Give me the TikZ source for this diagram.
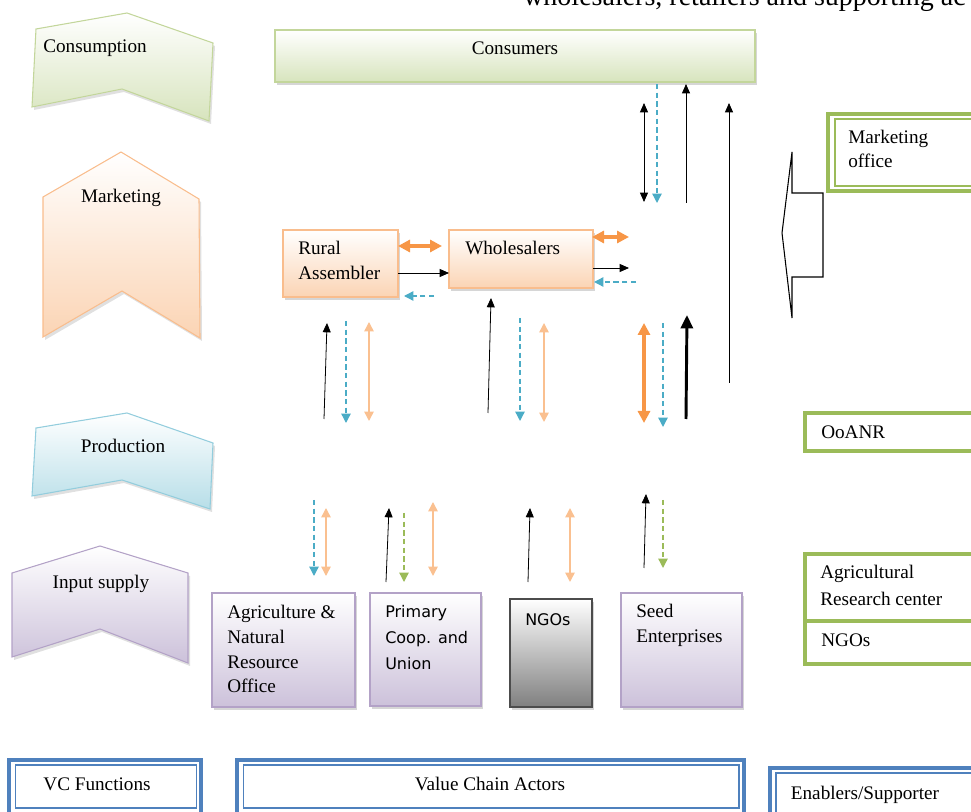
\documentclass[tikz,border=0pt]{standalone}
\usepackage{fontspec}
\setmainfont{Liberation Serif}
\newfontfamily\vsans{DejaVu Sans}
\usetikzlibrary{arrows.meta,fit,shadows}
\definecolor{gfill}{HTML}{D7E4BD}
\definecolor{gline}{HTML}{C3D69B}
\definecolor{pfill}{HTML}{FBD4B4}
\definecolor{pline}{HTML}{F9BD8D}
\definecolor{bfill}{HTML}{B7DEE8}
\definecolor{bline}{HTML}{93CDDD}
\definecolor{vfill}{HTML}{CCC1DA}
\definecolor{vline}{HTML}{B3A2C7}
\definecolor{ogreen}{HTML}{9BBB59}
\definecolor{oblue}{HTML}{4F81BD}
\definecolor{aqua}{HTML}{4BACC6}
\definecolor{dorange}{HTML}{F79646}
\definecolor{lorange}{HTML}{FAC090}
\begin{document}
\begin{tikzpicture}[x=0.75pt,y=-0.75pt,
  >={Triangle[length=7pt,width=6pt]},
  lbl/.style={font=\fontsize{14.4}{18}\selectfont,inner sep=0pt,anchor=base west},
  clbl/.style={lbl,anchor=base},
  slbl/.style={font=\vsans\fontsize{12}{15}\selectfont,inner sep=0pt,anchor=base west},
  shd/.style={drop shadow={shadow xshift=1.5pt,shadow yshift=-2pt,fill=black!40,opacity=0.4}},
  chevshadow/.style={fill=black!40,opacity=0.3,shift={(2,3)}},
  gbox/.style={inner sep=0pt,draw=gline,line width=0.8pt,top color=white,bottom color=gfill,shd},
  obox/.style={inner sep=0pt,draw=pline,line width=0.8pt,top color=white,bottom color=pfill,shd},
  vbox/.style={inner sep=0pt,draw=vline,line width=0.8pt,top color=white,bottom color=vfill,shd},
  kbox/.style={inner sep=0pt,draw=black!70,line width=0.8pt,top color=white,bottom color=black!50,shd},
  grbox/.style={inner sep=0pt,draw=ogreen,line width=3pt},
  grthin/.style={inner sep=0pt,draw=ogreen,line width=1pt},
  blbox/.style={inner sep=0pt,draw=oblue,line width=3.5pt},
  blthin/.style={inner sep=0pt,draw=oblue,line width=1pt},
  blk/.style={->,line width=0.6pt},
  blkd/.style={<->,line width=0.6pt},
  blkT/.style={-{Triangle[length=10pt,width=9pt]},line width=2.2pt},
  aq/.style={-{Triangle[length=7pt,width=7pt]},draw=aqua,line width=1pt,dash pattern=on 4pt off 2.5pt},
  gd/.style={aq,draw=ogreen},
  lor/.style={{Triangle[length=7pt,width=7pt]}-{Triangle[length=7pt,width=7pt]},draw=lorange,line width=1.1pt},
  dor/.style={{Triangle[length=9pt,width=9pt]}-{Triangle[length=9pt,width=9pt]},draw=dorange,line width=2.4pt}
]
\useasboundingbox (0,0) rectangle (971,812);
\clip (0,0) rectangle (971,812);

% cut-off heading at top
\node[anchor=base west,inner sep=0pt,font=\fontsize{21}{24}\selectfont] (heading) at (523,6) {wholesalers, retailers and supporting ac};

% ---------- VC function chevrons ----------
\fill[chevshadow] (36,29) -- (127,13) -- (213,43) -- (209,121) -- (122,89) -- (32,107) -- cycle;
\shade[top color=white,bottom color=gfill,draw=gline,line width=0.8pt] (36,29) -- (127,13) -- (213,43) -- (209,121) -- (122,89) -- (32,107) -- cycle;
\node[lbl] (consumption) at (43,53) {Consumption};

\fill[chevshadow] (43,197) -- (121,152) -- (199,199) -- (200,338) -- (122,291) -- (43,337) -- cycle;
\shade[top color=white,bottom color=pfill,draw=pline,line width=0.8pt] (43,197) -- (121,152) -- (199,199) -- (200,338) -- (122,291) -- (43,337) -- cycle;
\node[clbl] (marketing) at (121,203) {Marketing};

\fill[chevshadow] (36,428) -- (127,413) -- (213,443) -- (210,509) -- (122,480) -- (32,496) -- cycle;
\shade[top color=white,bottom color=bfill,draw=bline,line width=0.8pt] (36,428) -- (127,413) -- (213,443) -- (210,509) -- (122,480) -- (32,496) -- cycle;
\node[clbl] (production) at (123,453) {Production};

\fill[chevshadow] (12,573) -- (100,546) -- (188,573) -- (188,663) -- (100,629) -- (12,657) -- cycle;
\shade[top color=white,bottom color=vfill,draw=vline,line width=0.8pt] (12,573) -- (100,546) -- (188,573) -- (188,663) -- (100,629) -- (12,657) -- cycle;
\node[clbl] (inputsupply) at (101,589) {Input supply};

% ---------- actors ----------
\node[gbox,fit={(275,30) (755,82)}] (consumers) {};
\node[clbl] (consumerst) at (515,55) {Consumers};

\node[obox,fit={(283,230) (398,297)}] (rural) {};
\node[lbl] (rural1) at (298,255) {Rural};
\node[lbl] (rural2) at (298,280) {Assembler};

\node[obox,fit={(449,230) (593,288)}] (whole) {};
\node[lbl] (wholet) at (465,255) {Wholesalers};

\node[vbox,fit={(212,593) (355,707)}] (anr) {};
\node[lbl] (anr1) at (227,618) {Agriculture \&};
\node[lbl] (anr2) at (227,643) {Natural};
\node[lbl] (anr3) at (227,668) {Resource};
\node[lbl] (anr4) at (227,692) {Office};

\node[vbox,fit={(370,593) (481,706)}] (coop) {};
\node[slbl] (coop1) at (385,617) {Primary};
\node[slbl] (coop2) at (385,643) {Coop. and};
\node[slbl] (coop3) at (385,669) {Union};

\node[kbox,fit={(510,599) (592,707)}] (ngo) {};
\node[slbl] (ngot) at (525,625) {NGOs};

\node[vbox,fit={(621,593) (742,707)}] (seed) {};
\node[lbl] (seed1) at (636,617) {Seed};
\node[lbl] (seed2) at (636,642) {Enterprises};

% ---------- enablers ----------
\node[grbox,fit={(827.5,114) (1000,191)}] (mko) {};
\node[grthin,fit={(835,119) (1000,186)}] (mkoin) {};
\node[lbl] (mko1) at (848,144) {Marketing};
\node[lbl] (mko2) at (848,168) {office};

\draw[line width=0.8pt,fill=white] (792,152) -- (792,193) -- (823,193) -- (823,277) -- (792,277) -- (792,318) -- (782,233) -- cycle;

\node[grbox,fit={(805,413.5) (1000,451)}] (ooanr) {};
\node[lbl] (ooanrt) at (821,439) {OoANR};

\node[grbox,fit={(805,554) (1000,620.5)}] (arc) {};
\node[lbl] (arc1) at (820,579) {Agricultural};
\node[lbl] (arc2) at (820,605) {Research center};

\node[grbox,fit={(805,620.5) (1000,663.5)}] (ngo2) {};
\node[lbl] (ngo2t) at (821,646) {NGOs};

% ---------- legend ----------
\node[blbox,fit={(9,760) (201,820)}] (lg1) {};
\node[blthin,fit={(15.5,765) (196.5,808)}] (lg1in) {};
\node[clbl] (lg1t) at (97,790) {VC Functions};

\node[blbox,fit={(237,760) (744,820)}] (lg2) {};
\node[blthin,fit={(243.5,765) (739,808)}] (lg2in) {};
\node[clbl] (lg2t) at (490,790) {Value Chain Actors};

\node[blbox,fit={(770,768) (1000,830)}] (lg3) {};
\node[blthin,fit={(776,773) (1000,830)}] (lg3in) {};
\node[clbl] (lg3t) at (865,799) {Enablers/Supporter};

% ---------- arrows near consumers ----------
\coordinate (a1s) at (644,103); \coordinate (a1e) at (644,202);
\coordinate (a2s) at (657,84);  \coordinate (a2e) at (657,203);
\coordinate (a3s) at (686,203); \coordinate (a3e) at (686,84);
\coordinate (a4s) at (729,383); \coordinate (a4e) at (729,103);
\draw[blkd] (a1s) -- (a1e);
\draw[aq] (a2s) -- (a2e);
\draw[blk] (a3s) -- (a3e);
\draw[blk] (a4s) -- (a4e);

% ---------- horizontal arrows ----------
\coordinate (b1s) at (398,246); \coordinate (b1e) at (442,246);
\coordinate (b2s) at (398,273); \coordinate (b2e) at (449,273);
\coordinate (b3s) at (434,296); \coordinate (b3e) at (404,296);
\coordinate (b4s) at (592,237); \coordinate (b4e) at (629,237);
\coordinate (b5s) at (593,268); \coordinate (b5e) at (629,268);
\coordinate (b6s) at (636,282); \coordinate (b6e) at (594,282);
\draw[dor] (b1s) -- (b1e);
\draw[blk] (b2s) -- (b2e);
\draw[aq] (b3s) -- (b3e);
\draw[dor] (b4s) -- (b4e);
\draw[blk] (b5s) -- (b5e);
\draw[aq] (b6s) -- (b6e);

% ---------- middle vertical arrows ----------
\coordinate (c1s) at (324,419); \coordinate (c1e) at (327,323);
\coordinate (c2s) at (346,321); \coordinate (c2e) at (346,423);
\coordinate (c3s) at (369,322); \coordinate (c3e) at (369,421);
\coordinate (c4s) at (488,413); \coordinate (c4e) at (491,298);
\coordinate (c5s) at (520,318); \coordinate (c5e) at (520,421);
\coordinate (c6s) at (544,323); \coordinate (c6e) at (544,422);
\coordinate (c7s) at (644,323); \coordinate (c7e) at (644,423);
\coordinate (c8s) at (663,323); \coordinate (c8e) at (663,427);
\coordinate (c9s) at (686,419); \coordinate (c9e) at (687,315);
\draw[blk] (c1s) -- (c1e);
\draw[aq] (c2s) -- (c2e);
\draw[lor] (c3s) -- (c3e);
\draw[blk] (c4s) -- (c4e);
\draw[aq] (c5s) -- (c5e);
\draw[lor] (c6s) -- (c6e);
\draw[dor] (c7s) -- (c7e);
\draw[aq] (c8s) -- (c8e);
\draw[blkT] (c9s) -- (c9e);

% ---------- lower vertical arrows ----------
\coordinate (d1s) at (314,500); \coordinate (d1e) at (314,576);
\coordinate (d2s) at (326,508); \coordinate (d2e) at (326,576);
\coordinate (d3s) at (386,582); \coordinate (d3e) at (389,508);
\coordinate (d4s) at (404,513); \coordinate (d4e) at (404,582);
\coordinate (d5s) at (433,502); \coordinate (d5e) at (433,576);
\coordinate (d6s) at (528,582); \coordinate (d6e) at (530,508);
\coordinate (d7s) at (570,508); \coordinate (d7e) at (570,582);
\coordinate (d8s) at (644,568); \coordinate (d8e) at (646,494);
\coordinate (d9s) at (663,500); \coordinate (d9e) at (663,568);
\draw[aq] (d1s) -- (d1e);
\draw[lor] (d2s) -- (d2e);
\draw[blk] (d3s) -- (d3e);
\draw[gd] (d4s) -- (d4e);
\draw[lor] (d5s) -- (d5e);
\draw[blk] (d6s) -- (d6e);
\draw[lor] (d7s) -- (d7e);
\draw[blk] (d8s) -- (d8e);
\draw[gd] (d9s) -- (d9e);
\end{tikzpicture}
\end{document}
